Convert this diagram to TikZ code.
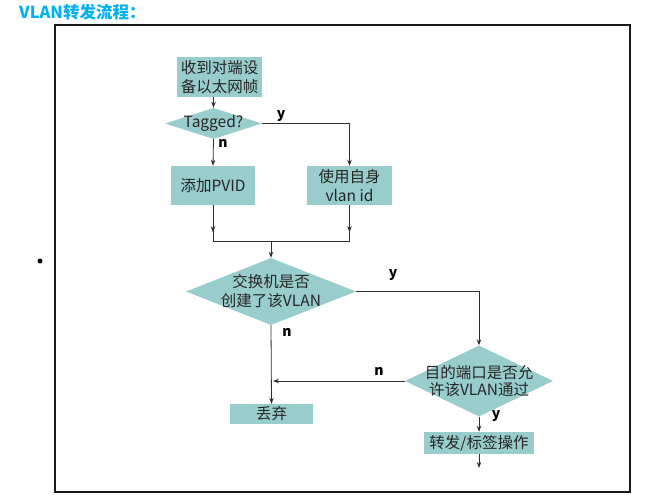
\documentclass[tikz,border=0pt]{standalone}
\usepackage{fontspec}
\setmainfont{Noto Sans CJK SC}
\usetikzlibrary{shapes.geometric,arrows.meta,calc}
\definecolor{boxfill}{RGB}{153,204,204}
\definecolor{titlecol}{RGB}{0,176,240}
\definecolor{linecol}{RGB}{45,45,45}
\begin{document}
\begin{tikzpicture}[x=1pt,y=-1pt,
  boxnode/.style={fill=boxfill,inner sep=0pt,align=center,font=\fontsize{15.5}{19}\selectfont,text=black!85},
  dianode/.style={diamond,fill=boxfill,inner sep=0pt},
  dtext/.style={align=center,font=\fontsize{15.5}{19}\selectfont,text=black!85,inner sep=0pt},
  conn/.style={draw=linecol,line width=0.8pt},
  arr/.style={conn,-{Stealth[length=6pt,width=4.5pt]}},
  yn/.style={font=\fontsize{14}{16}\selectfont\bfseries,text=black,inner sep=0pt}]
\useasboundingbox (0,0) rectangle (648,503);
% title and frame
\node[anchor=west,font=\fontsize{16.5}{19}\selectfont\bfseries,text=titlecol,inner sep=0pt] (title) at (19,12) {VLAN转发流程：};
\draw[line width=2pt,black!90] (55,25) rectangle (630,492);
\fill (40,261) circle (2.5pt);
% nodes
\node[boxnode,minimum width=85pt,minimum height=40pt] (recv) at (219.5,77) {收到对端设\\备以太网帧};
\node[dianode,minimum width=97pt,minimum height=31pt] (tag) at (213.5,123.5) {};
\node[dtext] (tagt) at (tag.center) {Tagged?};
\node[boxnode,minimum width=84pt,minimum height=39pt] (pvid) at (213,185.5) {添加PVID};
\node[boxnode,minimum width=85pt,minimum height=39pt] (own) at (349.5,185.5) {使用自身\\vlan id};
\node[dianode,minimum width=170pt,minimum height=67pt] (made) at (271,291.5) {};
\node[dtext] (madet) at (made.center) {交换机是否\\创建了该VLAN};
\node[boxnode,minimum width=83pt,minimum height=20pt] (drop) at (271.5,414) {丢弃};
\node[dianode,minimum width=148pt,minimum height=71pt] (allow) at (479,381) {};
\node[dtext,font=\fontsize{15.5}{17}\selectfont] (allowt) at (allow.center) {目的端口是否允\\许该VLAN通过};
\node[boxnode,minimum width=110pt,minimum height=22pt] (fwd) at (479,443) {转发/标签操作};
\coordinate (jm) at (271,241);
\coordinate (fend) at (479,468);
% connectors
\draw[arr] (tag.north |- recv.south) -- (tag.north);
\draw[arr] (tag.east) -- (own.north |- tag.east) -- (own.north);
\draw[arr] (tag.south) -- (pvid.north);
\draw[conn] (pvid.south) -- (pvid.south |- jm) -- (own.south |- jm) -- (own.south);
\draw[arr] (pvid.south) -- ++(0,27);
\draw[arr] (own.south) -- ++(0,27);
\draw[arr] (jm) -- (made.north);
\draw[arr] (made.east) -- (allow.north |- made.east) -- (allow.north);
\draw[arr] (made.south) -- (drop.north);
\draw[arr] (allow.west) -- ($(made.south |- allow.west)+(2,0)$);
\draw[arr] (allow.south) -- (fwd.north);
\draw[arr] (fwd.south) -- (fend);
% labels
\node[yn] (ly1) at (281,116) {y};
\node[yn] (ln1) at (223,143) {n};
\node[yn] (ly2) at (393,275) {y};
\node[yn] (ln2) at (287,332) {n};
\node[yn] (ln3) at (379,371) {n};
\node[yn] (ly3) at (496,416) {y};
\end{tikzpicture}
\end{document}
